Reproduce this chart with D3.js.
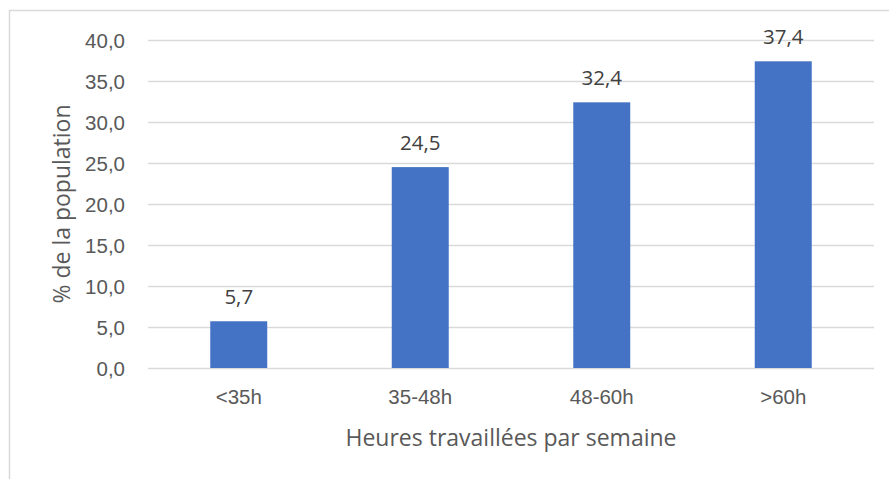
<!DOCTYPE html>
<meta charset="utf-8">
<script src="https://d3js.org/d3.v7.min.js"></script>
<style type="text/css">
body { margin: 0; background: #fff; }
svg { display: block; font-family: "Open Sans", "Noto Sans", sans-serif; }
.axis path, .axis line { display: none; }
.axis text { fill: #595959; font-size: 20.5px; }
.grid line { stroke: #d9d9d9; stroke-width: 1.5px; }
.grid path { display: none; }
.grid text { display: none; }
.barLabel { fill: #404040; font-size: 20.5px; }
.axisTitle { fill: #595959; font-size: 23px; }
</style>
<body></body>
<script>

var categories = ["<35h", "35-48h", "48-60h", ">60h"];
var values = [5.7, 24.5, 32.4, 37.4];
var yTicks = [0, 5, 10, 15, 20, 25, 30, 35, 40];

var fmt = function(v) { return d3.format(".1f")(v).replace(".", ","); };

var W = 889, H = 479;
var margin = {top: 40, right: 15, bottom: 111, left: 148};
var width = 874 - margin.left;
var height = 368 - margin.top;

var root = d3.select("body").append("svg")
    .attr("width", W)
    .attr("height", H);

// chart border (only top and left visible in the crop)
root.append("path")
  .attr("d", "M9.5," + H + "V10.5H" + W)
  .attr("fill", "none")
  .attr("stroke", "#d9d9d9")
  .attr("stroke-width", 1.5);

var svg = root.append("g")
    .attr("transform", "translate(" + margin.left + "," + margin.top + ")");

var xScale = d3.scaleBand()
  .domain(categories)
  .range([0, width])
  .paddingInner(0.686)
  .paddingOuter(0.343);

var yScale = d3.scaleLinear()
  .domain([0, 40])
  .range([height, 0]);

// gridlines
svg.append("g")
  .attr("class", "grid")
  .call(d3.axisLeft(yScale).tickValues(yTicks).tickSize(-width).tickFormat(""));

// y axis labels
svg.append("g")
  .attr("class", "y axis")
  .call(d3.axisLeft(yScale).tickValues(yTicks).tickSize(0).tickPadding(23).tickFormat(fmt))
  .selectAll("text").attr("dy", "0.35em");

// x axis labels
svg.append("g")
  .attr("class", "x axis")
  .attr("transform", "translate(0," + height + ")")
  .call(d3.axisBottom(xScale).tickSize(0).tickPadding(21));

// bars
svg.selectAll(".bar")
  .data(values).enter().append("rect")
  .attr("class", "bar")
  .attr("x", function(d, i) { return xScale(categories[i]); })
  .attr("width", xScale.bandwidth())
  .attr("y", function(d) { return yScale(d); })
  .attr("height", function(d) { return height - yScale(d); })
  .style("fill", "#4472c4");

// value labels
svg.selectAll(".barLabel")
  .data(values).enter().append("text")
  .attr("class", "barLabel")
  .attr("text-anchor", "middle")
  .attr("x", function(d, i) { return xScale(categories[i]) + xScale.bandwidth() / 2; })
  .attr("y", function(d) { return yScale(d) - 17; })
  .text(fmt);

// axis titles
root.append("text")
  .attr("class", "axisTitle")
  .attr("text-anchor", "middle")
  .attr("x", 511)
  .attr("y", 446)
  .text("Heures travaillées par semaine");

root.append("text")
  .attr("class", "axisTitle")
  .attr("text-anchor", "middle")
  .attr("transform", "translate(70,204) rotate(-90)")
  .text("% de la population");

</script>
